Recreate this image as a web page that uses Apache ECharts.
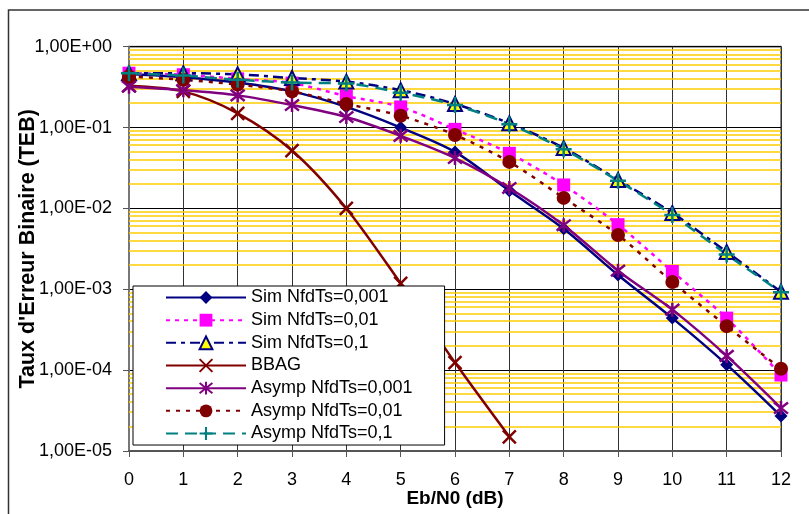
<!DOCTYPE html>
<html><head><meta charset="utf-8">
<script src="https://cdn.jsdelivr.net/npm/echarts@6/dist/echarts.min.js"></script>
<style>html,body{margin:0;padding:0;background:#fff}#c{width:809px;height:514px}</style>
</head><body><div id="c"></div>
<script>
// ---- data ----
const ebN0 = [0, 1, 2, 3, 4, 5, 6, 7, 8, 9, 10, 11, 12];
const simNfd0001 = [0.46, 0.42, 0.36, 0.28, 0.18, 0.10, 0.050, 0.0165, 0.0056, 0.0015, 4.4e-4, 1.17e-4, 2.7e-5];
const simNfd001  = [0.47, 0.45, 0.40, 0.355, 0.245, 0.18, 0.095, 0.048, 0.0195, 0.0063, 1.66e-3, 4.4e-4, 8.7e-5];
const simNfd01   = [0.47, 0.47, 0.455, 0.41, 0.37, 0.29, 0.196, 0.113, 0.056, 0.0225, 0.0088, 0.0029, 9.3e-4];
const bbag       = [0.33, 0.28, 0.15, 0.052, 0.010, 1.18e-3, 1.24e-4, 1.5e-5];
const asymNfd0001 = [0.32, 0.29, 0.25, 0.19, 0.135, 0.079, 0.042, 0.0179, 0.0062, 0.0017, 5.6e-4, 1.5e-4, 3.4e-5];
const asymNfd001  = [0.43, 0.39, 0.34, 0.28, 0.196, 0.14, 0.081, 0.0376, 0.0135, 0.0047, 1.23e-3, 3.5e-4, 1.04e-4];
const asymNfd01   = [0.47, 0.44, 0.39, 0.36, 0.35, 0.27, 0.19, 0.11, 0.054, 0.022, 0.0083, 0.0027, 9.2e-4];
const seriesNames = ['Sim NfdTs=0,001', 'Sim NfdTs=0,01', 'Sim NfdTs=0,1', 'BBAG',
                     'Asymp NfdTs=0,001', 'Asymp NfdTs=0,01', 'Asymp NfdTs=0,1'];
const yTickLabels = ['1,00E-05', '1,00E-04', '1,00E-03', '1,00E-02', '1,00E-01', '1,00E+00'];
const yTickExponents = [-5, -4, -3, -2, -1, 0];
const minorMantissas = [2, 3, 4, 5, 6, 7, 8, 9];
const minorDecades = [-5, -4, -3, -2, -1];

// ---- build ----
const pairs = vals => vals.map((v, i) => [ebN0[i], v]);
const minorData = [];
minorDecades.forEach(d => minorMantissas.forEach(m => minorData.push([ebN0[0], m * Math.pow(10, d), ebN0[ebN0.length - 1]])));

const SYM_X = 'path://M0,0L10,10M10,0L0,10';
const SYM_AST = 'path://M1,1L9,9M9,1L1,9M5,0L5,10';
const SYM_PLUS = 'path://M5,0L5,10M0,5L10,5';

function mk(name, vals, color, lineType, symbol, size, itemStyle) {
  return {
    name, type: 'line', data: pairs(vals), color,
    smooth: 0.3, symbol, symbolSize: size, showAllSymbol: true,
    lineStyle: { color, width: 2.5, type: lineType },
    itemStyle: Object.assign({ color }, itemStyle || {}),
    z: 3
  };
}

const series = [
  { name: 'minor', type: 'custom', data: minorData, z: 1, silent: true, clip: true,
    encode: { x: [0, 2], y: 1 },
    renderItem: (params, api) => {
      const p1 = api.coord([api.value(0), api.value(1)]);
      const p2 = api.coord([api.value(2), api.value(1)]);
      const y = Math.round(p1[1]);
      return { type: 'line', shape: { x1: p1[0], y1: y, x2: p2[0], y2: y },
               style: { stroke: '#FFCC00', lineWidth: 1.6 } };
    } },
  mk(seriesNames[0], simNfd0001, '#000080', 'solid', 'diamond', 13),
  mk(seriesNames[1], simNfd001, '#FF00FF', [4, 5], 'rect', 13),
  mk(seriesNames[2], simNfd01, '#000080', [10, 5, 4, 5], 'triangle', 14,
     { color: '#FFFF00', borderColor: '#000080', borderWidth: 2 }),
  mk(seriesNames[3], bbag, '#800000', 'solid', SYM_X, 13,
     { color: '#800000', borderColor: '#800000', borderWidth: 2.5 }),
  mk(seriesNames[4], asymNfd0001, '#800080', 'solid', SYM_AST, 14,
     { color: '#800080', borderColor: '#800080', borderWidth: 2.5 }),
  mk(seriesNames[5], asymNfd001, '#800000', [4, 6], 'circle', 14),
  mk(seriesNames[6], asymNfd01, '#008080', [12, 7], SYM_PLUS, 16,
     { color: '#008080', borderColor: '#008080', borderWidth: 2.5 })
];

const chart = echarts.init(document.getElementById('c'), null, { renderer: 'canvas' });
chart.setOption({
  animation: false,
  backgroundColor: '#fff',
  textStyle: { fontFamily: 'Liberation Sans, Arial, sans-serif' },
  grid: { left: 129, right: 28, top: 46.7, bottom: 63, show: true, borderColor: '#888', borderWidth: 2,
          backgroundColor: 'transparent', containLabel: false, outerBoundsMode: 'none' },
  graphic: [{ type: 'rect', z: 100, silent: true, shape: { x: 8.5, y: 10, width: 830, height: 530 },
              style: { fill: 'none', stroke: '#333', lineWidth: 1.5 } }],
  legend: {
    data: seriesNames, orient: 'vertical', left: 133, top: 286,
    padding: [2.5, 32, 2.5, 32], itemWidth: 80, itemHeight: 16, itemGap: 4.67,
    backgroundColor: '#fff', borderColor: '#000', borderWidth: 1,
    textStyle: { fontSize: 18, color: '#000', fontFamily: 'Liberation Sans, Arial, sans-serif' },
    selectedMode: false
  },
  xAxis: {
    type: 'value', min: 0, max: 12, interval: 1,
    name: 'Eb/N0 (dB)', nameLocation: 'middle', nameGap: 38, nameMoveOverlap: false,
    nameTextStyle: { fontSize: 19, fontWeight: 'bold', color: '#000' },
    axisLine: { show: true, lineStyle: { color: '#555', width: 2 } },
    axisTick: { show: true, length: 6, lineStyle: { color: '#555' } },
    axisLabel: { fontSize: 18, color: '#000', margin: 20 },
    splitLine: { show: true, lineStyle: { color: '#333', width: 1 } }
  },
  yAxis: {
    type: 'log', logBase: 10, min: 1e-5, max: 1, splitNumber: 5,
    name: "Taux d'Erreur Binaire (TEB)", nameLocation: 'middle', nameGap: 90, nameRotate: 90, nameMoveOverlap: false,
    nameTextStyle: { fontSize: 21.5, fontWeight: 'bold', color: '#000' },
    axisLine: { show: true, lineStyle: { color: '#777', width: 2 } },
    axisTick: { show: true, length: 6, lineStyle: { color: '#555' } },
    axisLabel: { fontSize: 18, color: '#000', margin: 17,
      formatter: v => { const e = Math.round(Math.log10(v)); const i = yTickExponents.indexOf(e); return i >= 0 ? yTickLabels[i] : ''; } },
    splitLine: { show: true, lineStyle: { color: '#000', width: 1 } }
  },
  series
});
</script></body></html>
